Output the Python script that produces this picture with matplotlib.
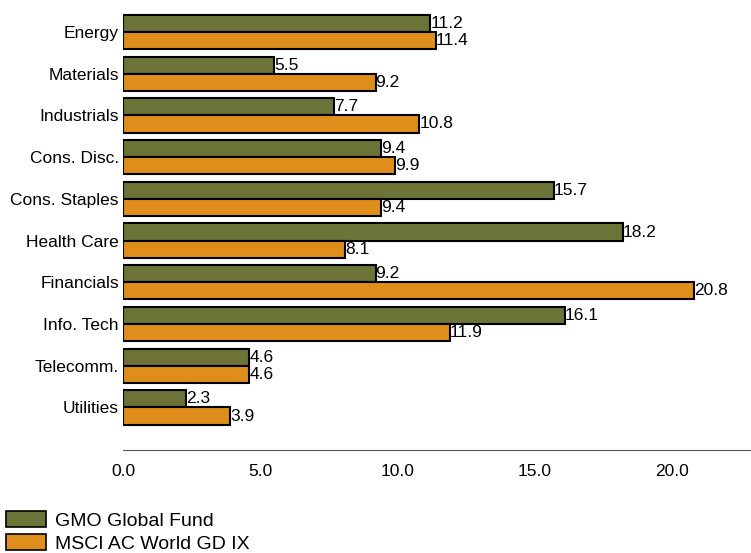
import numpy as np
import matplotlib.pyplot as plt
from matplotlib.patches import Patch

sectors = ['Energy', 'Materials', 'Industrials', 'Cons. Disc.', 'Cons. Staples',
           'Health Care', 'Financials', 'Info. Tech', 'Telecomm.', 'Utilities']
gmo = [11.2, 5.5, 7.7, 9.4, 15.7, 18.2, 9.2, 16.1, 4.6, 2.3]
msci = [11.4, 9.2, 10.8, 9.9, 9.4, 8.1, 20.8, 11.9, 4.6, 3.9]
series_names = ['GMO Global Fund', 'MSCI AC World GD IX']
xticks = [0, 5, 10, 15, 20]

green = '#6B7436'
orange = '#E08E1B'

plt.rcParams['font.family'] = ['Liberation Sans Narrow', 'Liberation Sans', 'DejaVu Sans']

fig = plt.figure(figsize=(7.51, 5.53), dpi=100)
ax = fig.add_axes([123/751, (553-450)/553, (750-123)/751, (450-3)/553])

y = np.arange(len(sectors))
h = 0.41
ax.barh(y - h/2, gmo, height=h, color=green, edgecolor='black', linewidth=1.5)
ax.barh(y + h/2, msci, height=h, color=orange, edgecolor='black', linewidth=1.5)

for i in range(len(sectors)):
    ax.text(gmo[i], y[i] - h/2, '{:.1f}'.format(gmo[i]), va='center', ha='left', fontsize=12.5)
    ax.text(msci[i], y[i] + h/2, '{:.1f}'.format(msci[i]), va='center', ha='left', fontsize=12.5)

ax.set_xlim(0, 22.84)
ax.set_ylim(10.02, -0.695)
ax.set_yticks(y)
ax.set_yticklabels(sectors, fontsize=12.5)
ax.set_xticks(xticks)
ax.set_xticklabels(['{:.1f}'.format(t) for t in xticks], fontsize=12.5)
ax.tick_params(length=0)
ax.tick_params(axis='x', pad=10)
ax.tick_params(axis='y', pad=3)
for s in ['top', 'right', 'left']:
    ax.spines[s].set_visible(False)
ax.spines['bottom'].set_color('#555555')

handles = [Patch(facecolor=green, edgecolor='black', linewidth=1.2),
           Patch(facecolor=orange, edgecolor='black', linewidth=1.2)]
fig.legend(handles, series_names, loc='lower left', bbox_to_anchor=(0.005, -0.003),
           frameon=False, fontsize=14, handlelength=2.05, handleheight=0.9,
           handletextpad=0.5, labelspacing=0.2, borderpad=0.1, borderaxespad=0)

fig.savefig('out.png', dpi=100)
